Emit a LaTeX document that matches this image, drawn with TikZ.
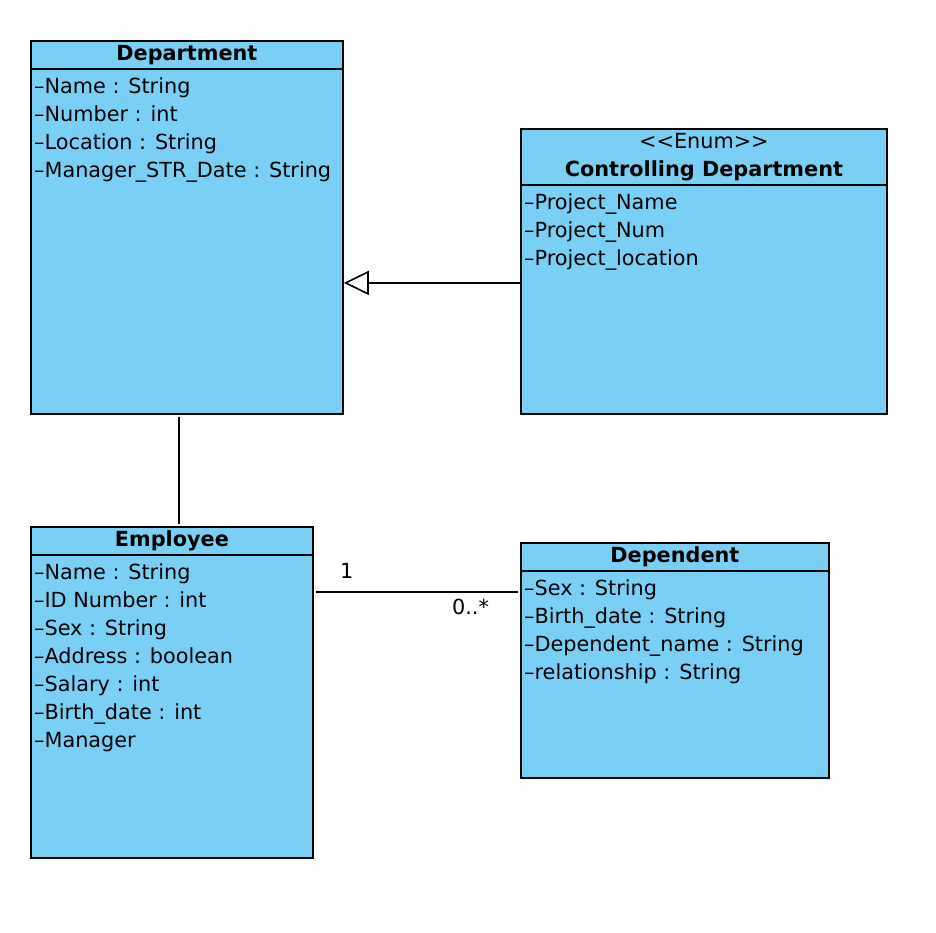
\documentclass[tikz,border=0pt]{standalone}
\usepackage{fontspec}
\setmainfont{DejaVu Sans}
\usepackage{tikz}
\usetikzlibrary{arrows.meta,positioning}
\definecolor{umlblue}{RGB}{122, 207, 245}

\begin{document}
\begin{tikzpicture}[
        x=1pt, y=-1pt,
        classbox/.style={draw, fill=umlblue, line width=1.8pt, inner sep=0pt, anchor=north west},
        classhead/.style={draw, line width=1.8pt, inner sep=0pt, anchor=north west, align=center, font=\fontsize{20.8}{28}\selectfont},
        attrs/.style={anchor=north west, align=left, inner sep=0pt, font=\fontsize{20.8}{28}\selectfont},
        assoc/.style={line width=1.6pt, shorten <=2pt, shorten >=2pt},
        gen/.style={line width=1.6pt, -{Triangle[open, length=25pt, width=24pt, fill=white]}},
        mult/.style={inner sep=0pt, font=\fontsize{20.8}{24}\selectfont}
    ]
        \useasboundingbox (0,0) rectangle (936,932);

        % Classes
        \node[classbox, minimum width=312pt, minimum height=373pt] (dept) at (30,40) {};
        \node[classhead, minimum width=312pt, minimum height=28pt] (deptHead) at (dept.north west) {\bfseries Department};
        \node[attrs] (deptAttr) at ([xshift=4pt, yshift=-8pt]deptHead.south west)
            {--Name : String\\--Number : int\\--Location : String\\--Manager\_STR\_Date : String};

        \node[classbox, minimum width=366pt, minimum height=285pt] (ctrl) at (520,128) {};
        \node[classhead, minimum width=366pt, minimum height=56pt] (ctrlHead) at (ctrl.north west)
            {{<}{<}Enum{>}{>}\\\bfseries Controlling Department};
        \node[attrs] (ctrlAttr) at ([xshift=4pt, yshift=-8pt]ctrlHead.south west)
            {--Project\_Name\\--Project\_Num\\--Project\_location};

        \node[classbox, minimum width=282pt, minimum height=331pt] (emp) at (30,526) {};
        \node[classhead, minimum width=282pt, minimum height=28pt] (empHead) at (emp.north west) {\bfseries Employee};
        \node[attrs] (empAttr) at ([xshift=4pt, yshift=-8pt]empHead.south west)
            {--Name : String\\--ID Number : int\\--Sex : String\\--Address : boolean\\--Salary : int\\--Birth\_date : int\\--Manager};

        \node[classbox, minimum width=308pt, minimum height=235pt] (dep) at (520,542) {};
        \node[classhead, minimum width=308pt, minimum height=28pt] (depHead) at (dep.north west) {\bfseries Dependent};
        \node[attrs] (depAttr) at ([xshift=4pt, yshift=-8pt]depHead.south west)
            {--Sex : String\\--Birth\_date : String\\--Dependent\_name : String\\--relationship : String};

        % Connections
        \draw[gen] ([yshift=-11.5pt]ctrl.west) -- ([yshift=-11.5pt]ctrl.west -| dept.east);
        \draw[assoc] ([xshift=-8pt]dept.south) -- ([xshift=-8pt]dept.south |- emp.north);
        \draw[assoc] ([yshift=-66pt]emp.north east) -- ([yshift=-66pt]emp.north east -| dep.west)
            node[mult, pos=0.16, above=13pt] (multEmp) {1}
            node[mult, pos=0.76, below=6pt] (multDep) {0..*};
    \end{tikzpicture}
\end{document}
